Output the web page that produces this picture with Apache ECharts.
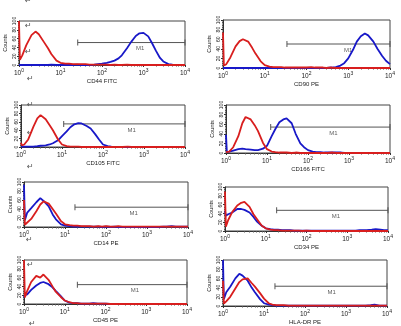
<!DOCTYPE html>
<html>
<head>
<meta charset="utf-8">
<script src="https://cdn.jsdelivr.net/npm/echarts@6/dist/echarts.min.js"></script>
<style>
html, body { margin: 0; padding: 0; background: #fff; }
#chart { width: 401px; height: 326px; }
</style>
</head>
<body>
<div id="chart"></div>
<script>
// 荧光强度取样点（对数轴 10^0 ~ 10^4）
const fluor = [1, 1.05, 1.2, 1.5, 2, 2.5, 3, 4, 5, 6, 8, 10, 13, 16, 20, 25, 30, 40, 50, 65, 80,
  100, 130, 160, 200, 250, 300, 400, 500, 650, 800, 1000, 1300, 1600, 2000, 2500, 3000, 4000, 5000, 6500, 8000, 10000];

const markers = ['CD44 FITC', 'CD90 PE', 'CD105 FITC', 'CD166 FITC', 'CD14 PE', 'CD34 PE', 'CD45 PE', 'HLA-DR PE'];

// 同型对照（红）
const isoCD44 = [100, 12, 22, 45, 68, 76, 70, 52, 38, 25, 10, 5, 3, 3, 2, 2, 2, 2, 1, 1, 1, 1, 1, 0, 1, 0, 0, 1, 0, 0, 0, 0, 0, 0, 0, 0, 0, 0, 0, 0, 0, 0];
const isoCD90 = [74, 5, 8, 22, 45, 56, 60, 55, 42, 30, 14, 6, 3, 2, 2, 2, 1, 1, 1, 1, 1, 1, 2, 1, 1, 1, 0, 1, 0, 0, 0, 0, 0, 0, 0, 0, 0, 0, 0, 0, 0, 0];
const isoCD105 = [10, 4, 6, 18, 48, 68, 76, 66, 52, 40, 18, 6, 2, 1, 1, 1, 0, 0, 0, 0, 0, 0, 0, 0, 0, 0, 0, 1, 0, 0, 0, 0, 0, 0, 0, 0, 0, 0, 0, 0, 0, 0];
const isoCD166 = [2, 1, 3, 12, 35, 62, 75, 70, 58, 46, 21, 8, 3, 2, 1, 1, 1, 0, 1, 0, 0, 0, 0, 0, 0, 0, 0, 1, 0, 0, 0, 0, 0, 0, 0, 0, 0, 0, 0, 0, 0, 0];
const isoCD14 = [60, 5, 10, 18, 35, 50, 57, 52, 40, 30, 13, 6, 4, 3, 3, 2, 2, 2, 1, 2, 1, 2, 1, 1, 2, 1, 1, 1, 1, 1, 1, 1, 1, 1, 1, 1, 1, 1, 1, 1, 1, 1];
const isoCD34 = [90, 10, 25, 43, 58, 64, 66, 55, 38, 28, 12, 6, 3, 2, 2, 1, 1, 1, 1, 1, 0, 1, 0, 0, 0, 0, 0, 0, 0, 0, 0, 0, 0, 0, 0, 0, 0, 0, 0, 0, 0, 0];
const isoCD45 = [100, 15, 30, 50, 64, 60, 67, 55, 40, 28, 16, 8, 4, 2, 2, 1, 1, 1, 1, 1, 1, 1, 0, 0, 0, 0, 0, 0, 0, 0, 0, 0, 0, 0, 0, 0, 0, 0, 0, 0, 0, 0];
const isoHLADR = [55, 5, 10, 20, 38, 52, 58, 60, 50, 42, 28, 16, 6, 3, 2, 2, 2, 1, 1, 1, 1, 1, 1, 1, 1, 1, 1, 1, 1, 1, 1, 1, 1, 1, 1, 1, 1, 1, 1, 1, 1, 1];

// 抗体染色（蓝）
const stCD44 = [0, 0, 0, 0, 0, 0, 0, 0, 0, 1, 0, 0, 0, 0, 0, 1, 0, 0, 0, 1, 2, 3, 5, 7, 10, 15, 22, 38, 52, 66, 72, 73, 65, 50, 32, 16, 8, 2, 1, 0, 0, 0];
const stCD90 = [0, 0, 0, 0, 0, 0, 0, 0, 0, 0, 0, 0, 0, 0, 0, 0, 0, 0, 0, 0, 0, 0, 0, 0, 0, 0, 0, 1, 2, 5, 10, 20, 38, 55, 66, 72, 68, 55, 40, 25, 15, 8];
const stCD105 = [1, 1, 1, 1, 1, 2, 3, 4, 6, 9, 16, 26, 37, 47, 54, 57, 56, 50, 44, 30, 18, 6, 2, 1, 0, 0, 0, 0, 0, 0, 0, 0, 0, 0, 0, 0, 0, 0, 0, 0, 0, 0];
const stCD166 = [38, 2, 3, 5, 8, 9, 8, 7, 6, 6, 9, 15, 35, 50, 64, 70, 72, 62, 40, 20, 12, 6, 3, 2, 2, 1, 1, 1, 1, 1, 0, 0, 0, 0, 0, 0, 0, 0, 0, 0, 0, 0];
const stCD14 = [94, 15, 32, 42, 55, 64, 58, 46, 28, 17, 6, 3, 2, 1, 1, 1, 1, 1, 1, 1, 0, 1, 0, 1, 0, 0, 0, 0, 0, 0, 0, 0, 0, 0, 0, 1, 1, 2, 1, 1, 1, 1];
const stCD34 = [45, 35, 38, 42, 50, 50, 48, 42, 32, 22, 12, 6, 4, 3, 3, 2, 2, 2, 1, 1, 1, 1, 1, 1, 1, 1, 1, 1, 1, 1, 1, 1, 1, 1, 2, 2, 2, 3, 4, 3, 2, 2];
const stCD45 = [15, 20, 22, 32, 42, 48, 50, 45, 38, 30, 18, 8, 3, 2, 2, 1, 1, 1, 2, 1, 1, 1, 0, 0, 0, 0, 0, 0, 0, 0, 0, 0, 0, 0, 0, 0, 0, 0, 0, 0, 0, 0];
const stHLADR = [100, 15, 30, 42, 60, 70, 66, 55, 40, 30, 15, 6, 3, 2, 1, 1, 1, 1, 1, 1, 1, 1, 1, 1, 1, 1, 1, 1, 1, 1, 1, 1, 1, 1, 1, 1, 1, 2, 3, 1, 1, 1];

const isotype = [isoCD44, isoCD90, isoCD105, isoCD166, isoCD14, isoCD34, isoCD45, isoHLADR];
const stained = [stCD44, stCD90, stCD105, stCD166, stCD14, stCD34, stCD45, stHLADR];

// M1 门
const gateStart = [26, 34, 11, 12.3, 17.5, 18.5, 20.4, 18.5];
const gateEnd = [10000, 10000, 10000, 10000, 10000, 10000, 10000, 10000];
const gateLevel = [51, 50, 55, 54, 44, 47, 44, 43];
const gateLabelX = [830, 1000, 500, 415, 470, 525, 530, 450];

const yTicks = [0, 20, 40, 60, 80, 100];

// 每个小图的位置 [left, top, width, height]
const boxes = [
  [19, 21, 166, 44], [223, 20, 167, 48],
  [21, 105, 164, 42], [226, 105, 164, 48],
  [24, 182, 164, 45], [225, 187, 163, 44],
  [24, 260, 163, 44], [223, 260, 164, 46]
];

const RED = '#d81e1e';
const BLUE = '#1818c8';
const FONT = 'Liberation Sans';

const grid = [], xAxis = [], yAxis = [], series = [];
boxes.forEach((b, i) => {
  grid.push({
    left: b[0], top: b[1], width: b[2], height: b[3],
    show: true, borderColor: '#444', borderWidth: 1, backgroundColor: '#fff'
  });
  xAxis.push({
    gridIndex: i, type: 'log', logBase: 10, min: 1, max: 10000,
    name: markers[i], nameLocation: 'middle', nameGap: 13,
    nameTextStyle: { fontSize: 6, fontFamily: FONT, color: '#222' },
    axisLine: { lineStyle: { color: '#333', width: 1 } },
    axisTick: { show: true, length: 2, lineStyle: { color: '#333' } },
    minorTick: { show: true, splitNumber: 9, length: 1.5, lineStyle: { color: '#555' } },
    splitLine: { show: false },
    axisLabel: {
      margin: 3, fontFamily: FONT, color: '#222',
      formatter: v => '{b|10}{s|' + Math.round(Math.log10(v)) + '}',
      rich: {
        b: { fontSize: 6.5, fontFamily: FONT, color: '#222', verticalAlign: 'bottom', lineHeight: 9 },
        s: { fontSize: 5, fontFamily: FONT, color: '#222', verticalAlign: 'top', lineHeight: 9 }
      }
    }
  });
  yAxis.push({
    gridIndex: i, type: 'value', min: 0, max: 100, interval: 20,
    name: 'Counts', nameLocation: 'middle', nameGap: 11, nameRotate: 90,
    nameTextStyle: { fontSize: 5.5, fontFamily: FONT, color: '#222' },
    axisLine: { show: true, lineStyle: { color: '#333', width: 1 } },
    axisTick: { show: true, length: 2, lineStyle: { color: '#333' } },
    minorTick: { show: true, splitNumber: 4, length: 1, lineStyle: { color: '#555' } },
    splitLine: { show: false },
    axisLabel: {
      rotate: 90, margin: 2, fontSize: 5, fontFamily: FONT, color: '#222',
      formatter: v => yTicks.indexOf(v) >= 0 ? String(v) : ''
    }
  });

  const toPts = arr => fluor.map((x, k) => [x, arr[k]]);
  series.push({
    type: 'line', xAxisIndex: i, yAxisIndex: i, data: toPts(stained[i]),
    showSymbol: false, symbol: 'none', lineStyle: { color: BLUE, width: 1.8 }, z: 3, animation: false
  });
  series.push({
    type: 'line', xAxisIndex: i, yAxisIndex: i, data: toPts(isotype[i]),
    showSymbol: false, symbol: 'none', lineStyle: { color: RED, width: 1.8 }, z: 4, animation: false
  });
  series.push({
    type: 'line', xAxisIndex: i, yAxisIndex: i,
    data: [[gateStart[i], gateLevel[i]], [gateEnd[i], gateLevel[i]]],
    symbol: 'rect', symbolSize: [1, 6], showSymbol: true,
    itemStyle: { color: '#555' }, lineStyle: { color: '#555', width: 1 }, z: 2, animation: false
  });
  series.push({
    type: 'scatter', xAxisIndex: i, yAxisIndex: i,
    data: [[gateLabelX[i], gateLevel[i]]], symbolSize: 0,
    label: { show: true, formatter: 'M1', position: 'bottom', distance: 3, fontSize: 6, fontFamily: FONT, color: '#333' },
    z: 2, animation: false
  });
});

// 原图中残留的回车符号
const arrows = [[25, -3], [25, 22], [25, 48], [27, 75], [27, 101], [27, 129], [27, 163], [26, 236], [27, 261], [29, 320]];
const graphic = arrows.map(p => ({
  type: 'text', left: p[0], top: p[1],
  style: { text: '↵', fontSize: 8, fontFamily: 'DejaVu Sans', fill: '#555' }
}));

const chart = echarts.init(document.getElementById('chart'), null, { renderer: 'canvas' });
chart.setOption({
  animation: false,
  backgroundColor: '#fff',
  grid, xAxis, yAxis, series, graphic
});
</script>
</body>
</html>
